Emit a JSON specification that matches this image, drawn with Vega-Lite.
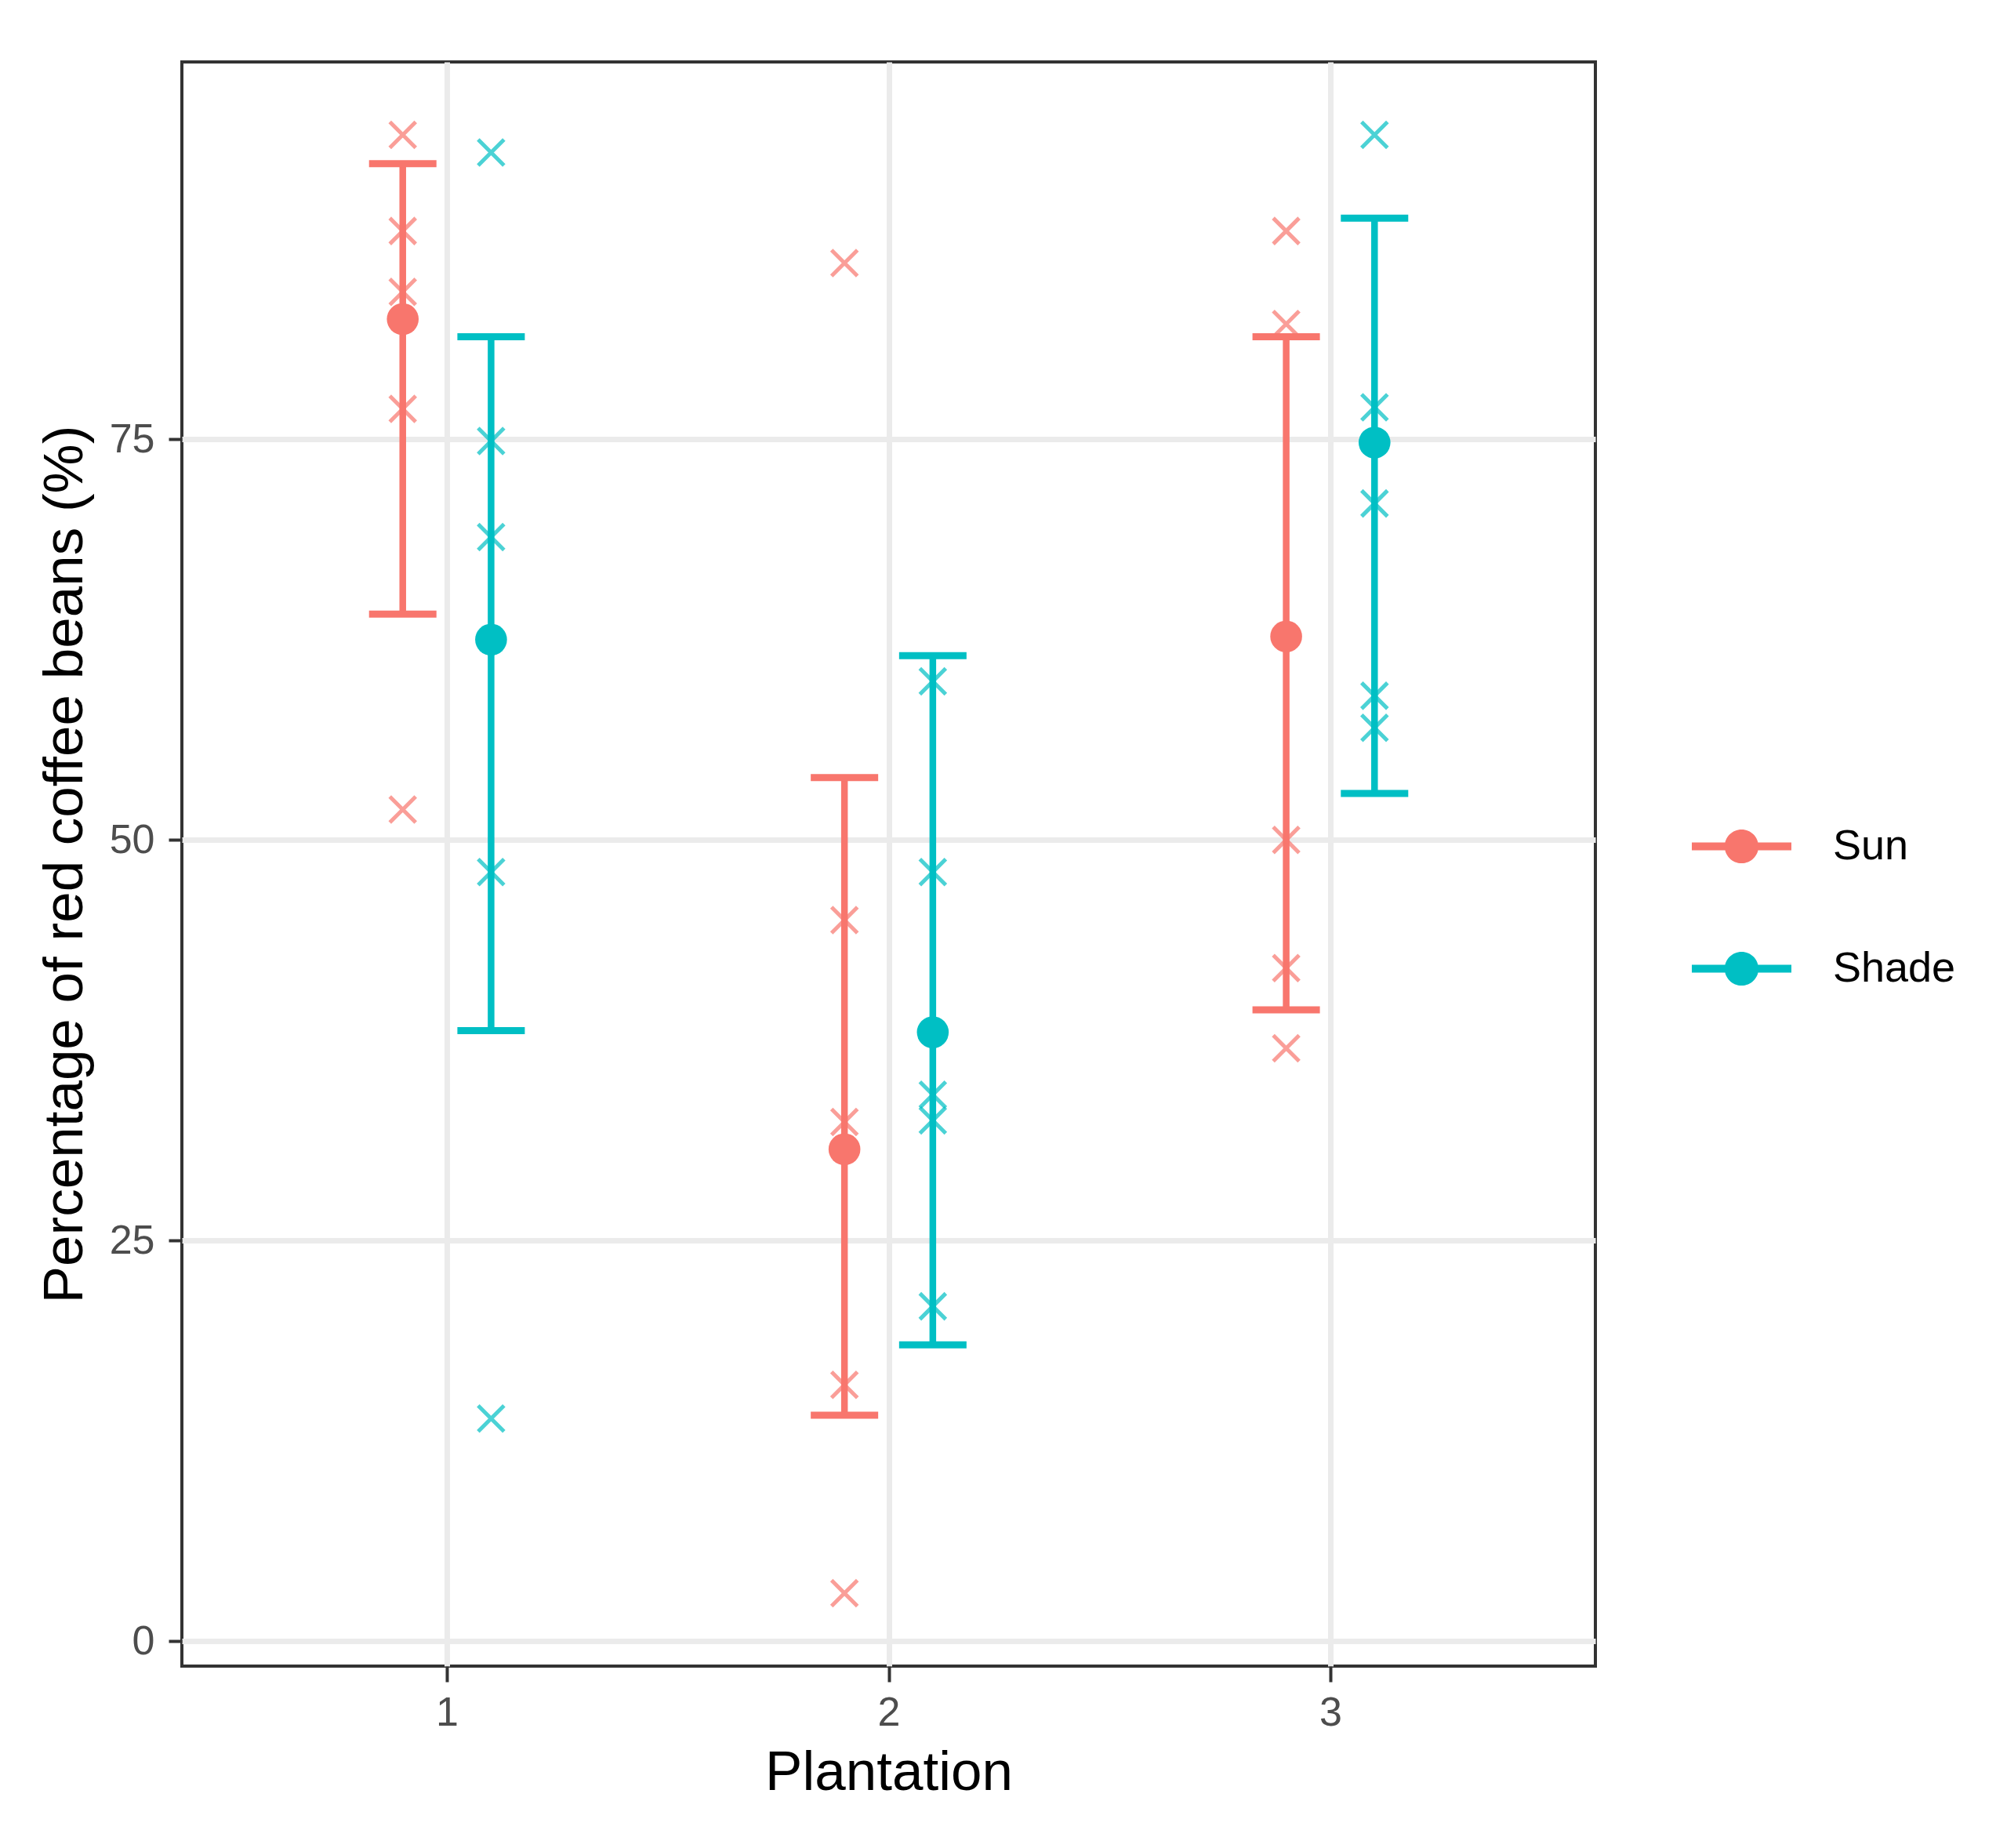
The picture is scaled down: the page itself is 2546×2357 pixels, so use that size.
{
  "$schema": "https://vega.github.io/schema/vega-lite/v6.json",
  "width": 1803,
  "height": 2046,
  "autosize": {"type": "none"},
  "padding": {"left": 232, "top": 79, "right": 511, "bottom": 232},
  "background": "white",
  "datasets": {
    "obs": [
      {"plantation": 1, "exposure": "Sun", "value": 94.0},
      {"plantation": 1, "exposure": "Sun", "value": 88.0},
      {"plantation": 1, "exposure": "Sun", "value": 84.2},
      {"plantation": 1, "exposure": "Sun", "value": 76.9},
      {"plantation": 1, "exposure": "Sun", "value": 51.9},
      {"plantation": 1, "exposure": "Shade", "value": 92.9},
      {"plantation": 1, "exposure": "Shade", "value": 74.9},
      {"plantation": 1, "exposure": "Shade", "value": 68.9},
      {"plantation": 1, "exposure": "Shade", "value": 48.0},
      {"plantation": 1, "exposure": "Shade", "value": 13.9},
      {"plantation": 2, "exposure": "Sun", "value": 86.0},
      {"plantation": 2, "exposure": "Sun", "value": 45.0},
      {"plantation": 2, "exposure": "Sun", "value": 32.4},
      {"plantation": 2, "exposure": "Sun", "value": 16.0},
      {"plantation": 2, "exposure": "Sun", "value": 3.0},
      {"plantation": 2, "exposure": "Shade", "value": 59.9},
      {"plantation": 2, "exposure": "Shade", "value": 48.0},
      {"plantation": 2, "exposure": "Shade", "value": 34.1},
      {"plantation": 2, "exposure": "Shade", "value": 32.5},
      {"plantation": 2, "exposure": "Shade", "value": 20.9},
      {"plantation": 3, "exposure": "Sun", "value": 88.0},
      {"plantation": 3, "exposure": "Sun", "value": 82.2},
      {"plantation": 3, "exposure": "Sun", "value": 50.0},
      {"plantation": 3, "exposure": "Sun", "value": 42.0},
      {"plantation": 3, "exposure": "Sun", "value": 37.0},
      {"plantation": 3, "exposure": "Shade", "value": 94.0},
      {"plantation": 3, "exposure": "Shade", "value": 77.0},
      {"plantation": 3, "exposure": "Shade", "value": 71.0},
      {"plantation": 3, "exposure": "Shade", "value": 59.0},
      {"plantation": 3, "exposure": "Shade", "value": 57.0}
    ],
    "summary": [
      {"plantation": 1, "exposure": "Sun", "mean": 82.5, "lo": 64.1, "hi": 92.2},
      {"plantation": 1, "exposure": "Shade", "mean": 62.5, "lo": 38.1, "hi": 81.4},
      {"plantation": 2, "exposure": "Sun", "mean": 30.7, "lo": 14.1, "hi": 53.9},
      {"plantation": 2, "exposure": "Shade", "mean": 38.0, "lo": 18.5, "hi": 61.5},
      {"plantation": 3, "exposure": "Sun", "mean": 62.7, "lo": 39.4, "hi": 81.4},
      {"plantation": 3, "exposure": "Shade", "mean": 74.8, "lo": 52.9, "hi": 88.8}
    ]
  },
  "encoding": {
    "color": {
      "field": "exposure",
      "type": "nominal",
      "scale": {"domain": ["Sun", "Shade"], "range": ["#F8766D", "#00BFC4"]},
      "legend": {
        "title": null,
        "orient": "none",
        "legendX": 1926,
        "legendY": 937,
        "padding": 0,
        "rowPadding": 65,
        "labelOffset": 53,
        "symbolType": "M-1,-0.08L1,-0.08L1,0.08L-1,0.08ZM0.34,0A0.34,0.34,0,1,1,-0.34,0A0.34,0.34,0,1,1,0.34,0Z",
        "symbolSize": 16129,
        "symbolStrokeWidth": 0,
        "symbolOpacity": 1,
        "labelFont": "Liberation Sans",
        "labelFontSize": 54,
        "labelColor": "#000000",
        "encode": {
          "symbols": {
            "update": {
              "fill": {"scale": "color", "field": "value"},
              "stroke": {"value": "transparent"},
              "opacity": {"value": 1}
            }
          }
        }
      }
    }
  },
  "layer": [
    {
      "data": {"name": "summary"},
      "transform": [{"calculate": "datum.plantation + (datum.exposure == 'Sun' ? -0.1 : 0.1)", "as": "xpos"}],
      "mark": {"type": "rule", "strokeWidth": 8.5, "opacity": 1},
      "encoding": {
        "x": {"field": "xpos", "type": "quantitative", "title": "Plantation",
              "scale": {"domain": [0.4, 3.6], "nice": false, "zero": false},
              "axis": {"values": [1, 2, 3], "format": "d"}},
        "y": {"field": "lo", "type": "quantitative", "title": "Percentage of red coffee beans (%)",
              "scale": {"domain": [-1.55, 98.55], "nice": false, "zero": false},
              "axis": {"values": [0, 25, 50, 75]}},
        "y2": {"field": "hi"}
      }
    },
    {
      "data": {"name": "summary"},
      "transform": [
        {"calculate": "datum.plantation + (datum.exposure == 'Sun' ? -0.1 : 0.1)", "as": "xpos"},
        {"fold": ["lo", "hi"], "as": ["end", "bound"]}
      ],
      "mark": {"type": "tick", "orient": "horizontal", "size": 86, "thickness": 9, "opacity": 1},
      "encoding": {
        "x": {"field": "xpos", "type": "quantitative", "title": "Plantation"},
        "y": {"field": "bound", "type": "quantitative", "title": "Percentage of red coffee beans (%)"}
      }
    },
    {
      "data": {"name": "obs"},
      "transform": [{"calculate": "datum.plantation + (datum.exposure == 'Sun' ? -0.1 : 0.1)", "as": "xpos"}],
      "mark": {"type": "point", "shape": "M-1,-1L1,1M-1,1L1,-1", "filled": false, "size": 1089, "strokeWidth": 5, "opacity": 0.7},
      "encoding": {
        "x": {"field": "xpos", "type": "quantitative", "title": "Plantation"},
        "y": {"field": "value", "type": "quantitative", "title": "Percentage of red coffee beans (%)"}
      }
    },
    {
      "data": {"name": "summary"},
      "transform": [{"calculate": "datum.plantation + (datum.exposure == 'Sun' ? -0.1 : 0.1)", "as": "xpos"}],
      "mark": {"type": "circle", "size": 1650, "opacity": 1},
      "encoding": {
        "x": {"field": "xpos", "type": "quantitative", "title": "Plantation"},
        "y": {"field": "mean", "type": "quantitative", "title": "Percentage of red coffee beans (%)"}
      }
    }
  ],
  "config": {
    "font": "Liberation Sans",
    "view": {"stroke": "#333333", "strokeWidth": 4},
    "axis": {
      "domain": false,
      "grid": true,
      "gridColor": "#EBEBEB",
      "gridWidth": 7,
      "tickColor": "#333333",
      "tickWidth": 4,
      "labelFont": "Liberation Sans",
      "labelFontSize": 52,
      "labelColor": "#4D4D4D",
      "titleFont": "Liberation Sans",
      "titleFontSize": 71,
      "titleFontWeight": "normal",
      "titleColor": "#000000"
    },
    "axisX": {
      "tickSize": 20,
      "labelPadding": 14,
      "titleBaseline": "alphabetic",
      "titleY": 157
    },
    "axisY": {
      "tickSize": 17,
      "labelPadding": 18,
      "titleBaseline": "alphabetic",
      "titleAlign": "center",
      "titleX": -128,
      "titleY": 1023
    }
  }
}
